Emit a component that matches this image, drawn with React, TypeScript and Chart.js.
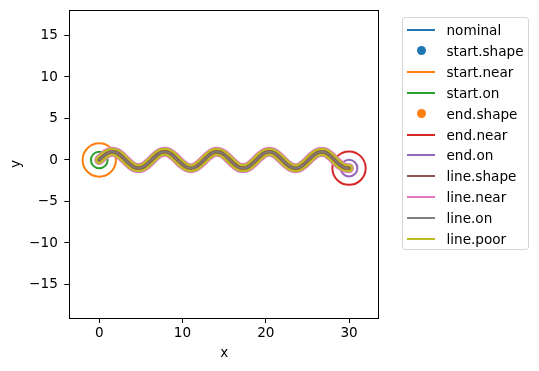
import React, { useEffect, useRef } from "react";
import { Chart, registerables } from "chart.js";
Chart.register(...registerables);

// ---- data ----
const pathX = [
  0, 0.5, 1, 1.5, 2, 2.5, 3, 3.5, 4, 4.5, 5, 5.5, 6, 6.5, 7, 7.5, 8, 8.5, 9, 9.5,
  10, 10.5, 11, 11.5, 12, 12.5, 13, 13.5, 14, 14.5, 15, 15.5, 16, 16.5, 17, 17.5,
  18, 18.5, 19, 19.5, 20, 20.5, 21, 21.5, 22, 22.5, 23, 23.5, 24, 24.5, 25, 25.5,
  26, 26.5, 27, 27.5, 28, 28.5, 29, 29.5, 30,
];
const pathY = [
  0, 0.48, 0.84, 1.0, 0.91, 0.6, 0.14, -0.35, -0.76, -0.98, -0.96, -0.71, -0.28,
  0.22, 0.66, 0.94, 0.99, 0.8, 0.41, -0.08, -0.54, -0.88, -1.0, -0.88, -0.54,
  -0.07, 0.42, 0.8, 0.99, 0.93, 0.65, 0.2, -0.29, -0.71, -0.96, -0.98, -0.75,
  -0.34, 0.15, 0.61, 0.91, 1.0, 0.84, 0.47, -0.01, -0.49, -0.85, -1.0, -0.91,
  -0.59, -0.13, 0.36, 0.76, 0.97, 0.96, 0.71, 0.27, -0.24, -0.66, -0.94, -0.99,
];
const startPoint = { x: 0, y: 0 };
const endPoint = { x: 30, y: -0.99 };
const nearRadius = 2;
const onRadius = 1;
const xTicks = [0, 10, 20, 30];
const yTicks = [-15, -10, -5, 0, 5, 10, 15];
const xRange = [-3.6, 33.6];
const yRange = [-19.04, 18.07];
const legendLabels = [
  "nominal", "start.shape", "start.near", "start.on", "end.shape", "end.near",
  "end.on", "line.shape", "line.near", "line.on", "line.poor",
];
const legendKinds = ["line", "dot", "line", "line", "dot", "line", "line", "line", "line", "line", "line"];
const colors = [
  "#1f77b4", "#1f77b4", "#ff7f0e", "#2ca02c", "#ff7f0e", "#d62728",
  "#9467bd", "#8c564b", "#e377c2", "#7f7f7f", "#bcbd22",
];

const FONT = "'DejaVu Sans', sans-serif";
const fmt = (v: number) => String(v).replace("-", "\u2212");

const pathData = pathX.map((x, i) => ({ x, y: pathY[i] }));

const radiusPx = (r: number) => (ctx: any) => {
  const s = ctx.chart.scales.x;
  if (!s) return 10;
  return Math.abs(s.getPixelForValue(r) - s.getPixelForValue(0));
};

const framePlugin = {
  id: "frame",
  afterDraw(chart: any) {
    const { ctx, chartArea: a } = chart;
    ctx.save();
    ctx.strokeStyle = "#000";
    ctx.lineWidth = 1;
    ctx.strokeRect(Math.round(a.left) + 0.5, Math.round(a.top) + 0.5, Math.round(a.right - a.left) - 1, Math.round(a.bottom - a.top));
    ctx.restore();
  },
};

export default function App() {
  const ref = useRef<HTMLCanvasElement>(null);
  useEffect(() => {
    document.body.style.margin = "0";
    const lineDs = (label: string, color: string, width: number, order: number) => ({
      label,
      data: pathData,
      showLine: true,
      borderColor: color,
      backgroundColor: color,
      borderWidth: width,
      pointRadius: 0,
      cubicInterpolationMode: "monotone",
      borderCapStyle: "round",
      borderJoinStyle: "round",
      order,
    });
    const circleDs = (label: string, color: string, pt: any, r: number, order: number) => ({
      label,
      data: [pt],
      showLine: false,
      pointStyle: "circle",
      pointRadius: radiusPx(r),
      pointHoverRadius: radiusPx(r),
      borderColor: color,
      backgroundColor: "rgba(0,0,0,0)",
      pointBorderWidth: 2,
      borderWidth: 2,
      order,
    });
    const dotDs = (label: string, color: string, pt: any, order: number) => ({
      label,
      data: [pt],
      showLine: false,
      pointRadius: 4,
      borderWidth: 0,
      backgroundColor: color,
      borderColor: color,
      order,
    });
    const noPad = (s: any) => {
      s.paddingTop = 0;
      s.paddingBottom = 0;
      s.paddingLeft = 0;
      s.paddingRight = 0;
    };
    const chart = new Chart(ref.current!, {
      type: "scatter",
      data: {
        datasets: [
          lineDs("nominal", colors[0], 1.5, 10),
          dotDs("start.shape", colors[1], startPoint, 9),
          circleDs("start.near", colors[2], startPoint, nearRadius, 8),
          circleDs("start.on", colors[3], startPoint, onRadius, 7),
          dotDs("end.shape", colors[4], endPoint, 6),
          circleDs("end.near", colors[5], endPoint, nearRadius, 5),
          circleDs("end.on", colors[6], endPoint, onRadius, 4),
          lineDs("line.shape", colors[7], 3.5, 1),
          lineDs("line.near", colors[8], 10, 3),
          lineDs("line.on", colors[9], 1.5, 0),
          lineDs("line.poor", colors[10], 8, 2),
        ] as any,
      },
      options: {
        animation: false,
        responsive: false,
        devicePixelRatio: 1,
        layout: { padding: { top: 10, right: 160, left: 0, bottom: 0 } },
        plugins: { legend: { display: false }, tooltip: { enabled: false } },
        scales: {
          x: {
            type: "linear",
            min: xRange[0],
            max: xRange[1],
            afterBuildTicks: (s: any) => { s.ticks = xTicks.map((v) => ({ value: v })); },
            afterFit: (s: any) => { s.height = 53; noPad(s); },
            border: { display: false },
            grid: { drawOnChartArea: false, drawTicks: true, tickLength: 5, tickColor: "#000", tickWidth: 1 },
            ticks: { autoSkip: false, maxRotation: 0, padding: 2, color: "#000", font: { family: FONT, size: 13.6 }, callback: (v: any) => fmt(v) },
            title: { display: true, text: "x", color: "#000", font: { family: FONT, size: 13.6 }, padding: { top: 0, bottom: 9 } },
          },
          y: {
            type: "linear",
            min: yRange[0],
            max: yRange[1],
            afterBuildTicks: (s: any) => { s.ticks = yTicks.map((v) => ({ value: v })); },
            afterFit: (s: any) => { s.width = 69.3; noPad(s); },
            border: { display: false },
            grid: { drawOnChartArea: false, drawTicks: true, tickLength: 5, tickColor: "#000", tickWidth: 1 },
            ticks: { autoSkip: false, padding: 6.5, color: "#000", font: { family: FONT, size: 13.6 }, callback: (v: any) => fmt(v) },
            title: { display: true, text: "y", color: "#000", font: { family: FONT, size: 13.6 }, padding: { top: 8.5, bottom: 0 } },
          },
        },
      } as any,
      plugins: [framePlugin],
    });
    return () => chart.destroy();
  }, []);

  return (
    <div style={{ position: "relative", width: 539, height: 371, background: "#fff" }}>
      <canvas ref={ref} width={539} height={371} style={{ position: "absolute", left: 0, top: 0, width: 539, height: 371 }} />
      <div
        style={{
          position: "absolute",
          left: 401.5,
          top: 16.5,
          width: 127,
          height: 233,
          border: "1px solid #d6d6d6",
          borderRadius: 3,
          boxSizing: "border-box",
          fontFamily: FONT,
          fontSize: 13.6,
          color: "#000",
        }}
      >
        {legendLabels.map((lab, i) => {
          const cy = 29 + 20.9 * i - 16.5;
          return (
            <div key={lab} style={{ position: "absolute", left: 0, top: cy - 10, height: 20, width: "100%" }}>
              {legendKinds[i] === "line" ? (
                <div style={{ position: "absolute", left: 4, top: 9, width: 28, height: 2, background: colors[i] }} />
              ) : (
                <div style={{ position: "absolute", left: 14, top: 5.5, width: 9, height: 9, borderRadius: "50%", background: colors[i] }} />
              )}
              <div style={{ position: "absolute", left: 44, top: 0, lineHeight: "20px", whiteSpace: "nowrap" }}>{lab}</div>
            </div>
          );
        })}
      </div>
    </div>
  );
}
